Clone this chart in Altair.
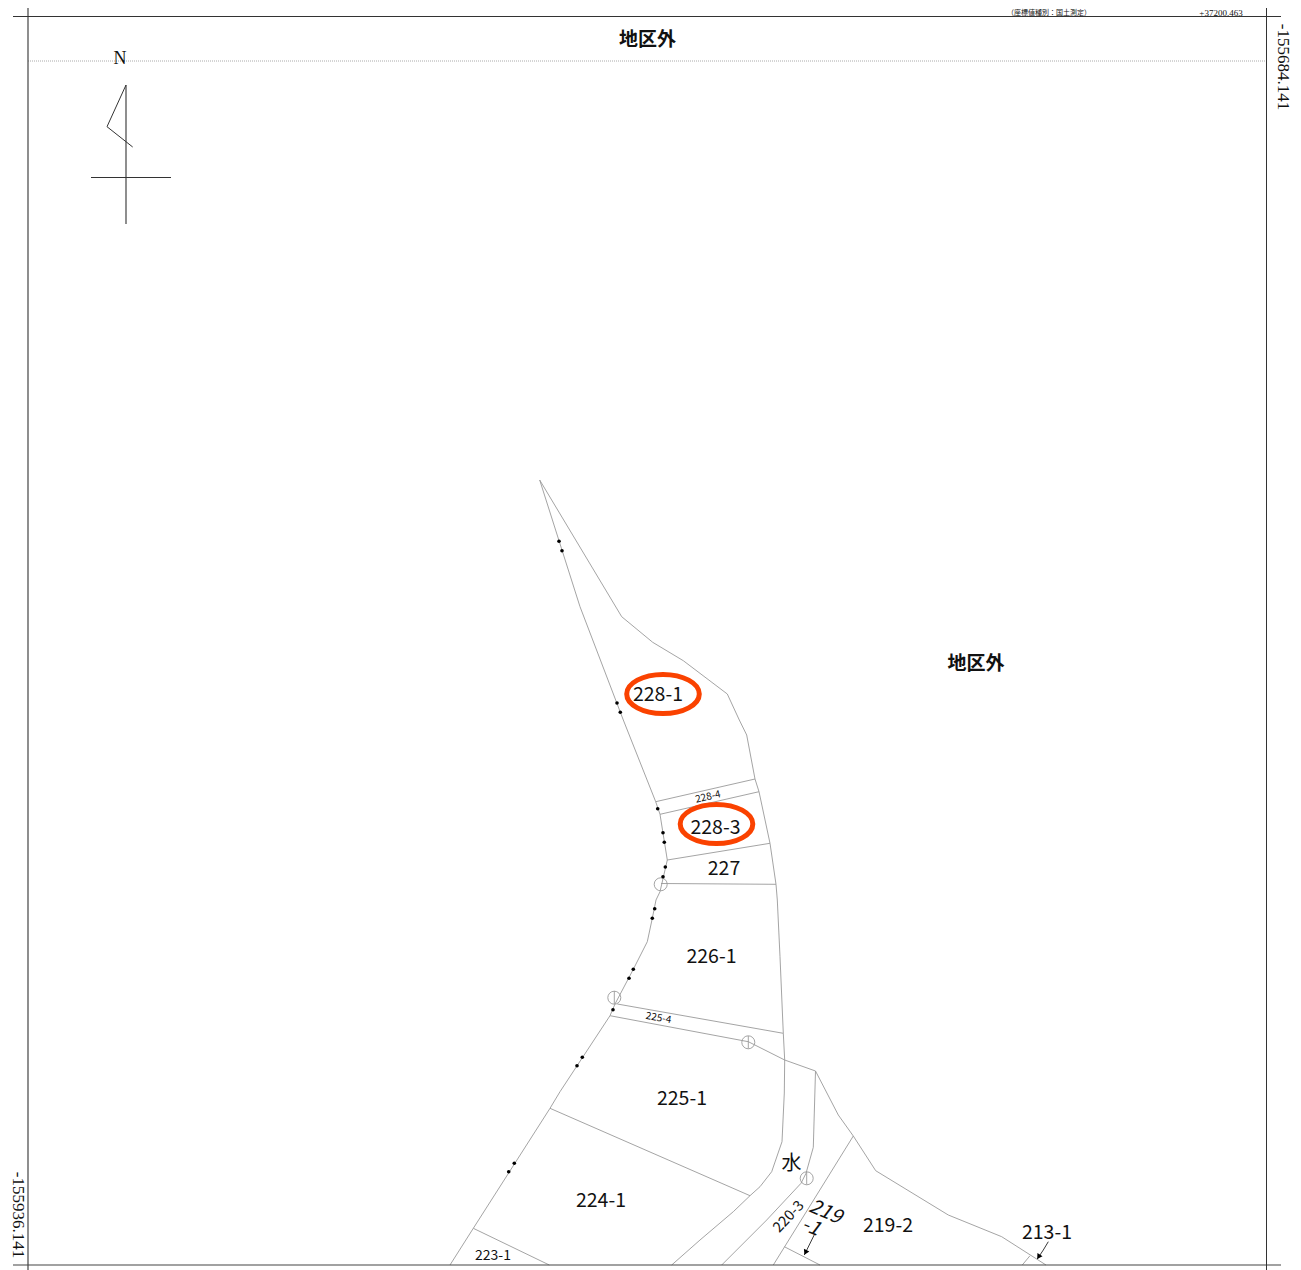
import altair as alt
import pandas as pd

# --- parcel boundaries (page pixel positions) ---
parcel_lines = [
    [(539.7,480),(621.7,616.7),(652.7,642.3),(683.3,660.7),(727.3,694),(739.3,720),(746.7,735),(755,779),(759,791.7),(770,843.3),(776,884.3),(777.3,900),(780,956.7),(783.3,1033.3),(784.7,1060),(784.3,1093),(782,1141.7),(771.7,1171.7),(760,1186.7),(750,1195.7),(733.3,1211.7),(700,1240),(671.7,1265)],
    [(539.7,480),(580,606.7),(623.3,720),(655.7,801.7),(660,814.3),(667.3,860),(660,891.7),(656,900),(652.3,918.3),(647.3,941.7),(633.3,969.3),(615,1004),(610,1015.7),(560,1091.7),(550,1108.3),(473.3,1228.3),(450,1265)],
    [(655.7,801.7),(755,779)],
    [(660,814.3),(759,791.7)],
    [(667.3,860),(770,843.3)],
    [(661,883.5),(776,884.3)],
    [(617.3,1004),(783.3,1033.3)],
    [(610,1015.7),(748.3,1041.7),(784.7,1060),(815.5,1071)],
    [(815.5,1071),(813.3,1147.3),(806,1173.3),(801,1183.3),(766.7,1220),(721.7,1265)],
    [(815.5,1071),(838.3,1115),(853.3,1136),(875.7,1170.7),(948.3,1215),(1001.7,1236.7),(1046,1265)],
    [(853.3,1136),(773.3,1265)],
    [(784.3,1246.7),(820,1265)],
    [(1022.3,1265),(1030,1255.7)],
    [(550,1108.3),(750,1195.7)],
    [(473.3,1228.3),(549.3,1265)],
    [(614.3,991),(614.3,1004)],
    [(748.3,1036),(748.3,1048.5)],
    [(806.7,1172),(806.7,1184.5)],
]
frame_grey = [[(28,0),(28,1270)], [(13,1265),(1281,1265)], [(126,85),(126,224)]]
frame_dark = [[(13,16.5),(1281,16.5)], [(1266.5,0),(1266.5,1270)], [(91,177.5),(171,177.5)],
              [(126,85),(107,126.7),(132.7,147)]]
dotted = [[(28,61),(1266,61)]]
leaders = [[(815,1233.3),(804.3,1255)], [(1048.3,1241.7),(1043.3,1250),(1037.3,1259)]]

dot_x = [559,562,617,620.3,657.7,663,664.3,665.3,663,654.7,652.3,633.3,629,613,582.3,577,514.3,508.7]
dot_y = [541.3,550.7,703,712.3,808.7,832.7,842.3,867,876.7,908.7,918.3,969.3,978.3,1009.7,1057.3,1065.7,1163.3,1171.7]

ring_x = [660.7,614.3,748.3,806.7]
ring_y = [884.3,997.7,1042.3,1178.3]

oval_x = [663,716.5]
oval_y = [694,824]

head_x = [805.5,1038.6]
head_y = [1252.5,1256.8]
head_a = [26,32]

label_text = ["228-1","228-3","227","226-1","225-1","224-1","219-2","213-1"]
label_x = [658,715.5,724,711.5,682,601,888,1047]
label_y = [695,828,868.5,957,1099,1201,1226,1233]

small_text = ["223-1","228-4","225-4","220-3"]
small_x = [493,708,658.5,789]
small_y = [1256,797,1018,1217]
small_size = [14,10,10,14.5]
small_angle = [0,347,10,313]

slant_text = ["219","-1"]
slant_x = [825.5,811]
slant_y = [1212,1227]
slant_size = [20,20]
slant_angle = [23,23]

bold_text = ["地区外","地区外"]
bold_x = [647.5,976]
bold_y = [40,664]

water_text = ["水"]
water_x = [791.5]
water_y = [1164]

top_note = ["（座標値種別：国土測定）"]
top_note_x = [1049]
top_note_y = [13.2]

serif_text = ["N","+37200.463","-155684.141","-155936.141"]
serif_x = [120,1221,1283,18]
serif_y = [59,13.3,67,1215]
serif_size = [18,9,17,17]
serif_angle = [0,0,90,90]

W, H = 1285, 1262
xs = alt.Scale(domain=[8, 8 + W], range=[0, W], nice=False, zero=False)
ys = alt.Scale(domain=[8, 8 + H], range=[0, H], nice=False, zero=False)
X = alt.X("x:Q", scale=xs, axis=None)
Y = alt.Y("y:Q", scale=ys, axis=None)


def table(lines):
    rows = []
    for i, line in enumerate(lines):
        for j, (px, py) in enumerate(line):
            rows.append({"x": px, "y": py, "id": i, "o": j})
    return pd.DataFrame(rows)


def lines(data, color, width, **kw):
    return alt.Chart(table(data)).mark_line(color=color, strokeWidth=width, interpolate="linear", **kw).encode(
        x=X, y=Y, detail="id:N", order="o:Q")


def texts(frame, font, **kw):
    return alt.Chart(frame).mark_text(font=font, color="#111111", baseline="middle", align="center", **kw).encode(
        x=X, y=Y, text="t:N",
        size=alt.Size("s:Q", scale=None, legend=None),
        angle=alt.Angle("a:Q", scale=None, legend=None))


oval_path = "M -1 0 A 1 0.54 0 1 0 1 0 A 1 0.54 0 1 0 -1 0 Z"
CJK = "Noto Sans CJK JP"

layers = [
    lines(dotted, "#aaaaaa", 1, strokeDash=[1, 1]),
    lines(parcel_lines, "#9a9a9a", 0.9),
    lines(frame_grey, "#444444", 1.2),
    lines(frame_dark, "#333333", 1),
    lines(leaders, "#222222", 0.9),
    alt.Chart(pd.DataFrame({"x": ring_x, "y": ring_y})).mark_point(
        shape="circle", size=169, filled=False, color="#9a9a9a", strokeWidth=0.9, opacity=1).encode(x=X, y=Y),
    alt.Chart(pd.DataFrame({"x": dot_x, "y": dot_y})).mark_point(
        shape="circle", size=13, filled=True, color="#000000", opacity=1).encode(x=X, y=Y),
    alt.Chart(pd.DataFrame({"x": head_x, "y": head_y, "a": head_a})).mark_point(
        shape="triangle-down", size=36, filled=True, color="#000000", opacity=1).encode(
        x=X, y=Y, angle=alt.Angle("a:Q", scale=None, legend=None)),
    texts(pd.DataFrame({"t": label_text, "x": label_x, "y": label_y, "s": 19.5, "a": 0}), CJK),
    texts(pd.DataFrame({"t": small_text, "x": small_x, "y": small_y, "s": small_size, "a": small_angle}), CJK),
    texts(pd.DataFrame({"t": slant_text, "x": slant_x, "y": slant_y, "s": slant_size, "a": slant_angle}), CJK, fontStyle="italic"),
    texts(pd.DataFrame({"t": bold_text, "x": bold_x, "y": bold_y, "s": 19, "a": 0}), CJK, fontWeight="bold"),
    texts(pd.DataFrame({"t": water_text, "x": water_x, "y": water_y, "s": 20, "a": 0}), CJK),
    texts(pd.DataFrame({"t": top_note, "x": top_note_x, "y": top_note_y, "s": 7, "a": 0}), CJK),
    texts(pd.DataFrame({"t": serif_text, "x": serif_x, "y": serif_y, "s": serif_size, "a": serif_angle}), "Liberation Serif"),
    alt.Chart(pd.DataFrame({"x": oval_x, "y": oval_y})).mark_point(
        shape=oval_path, size=5271, filled=False, color="#fa4200", strokeWidth=5, opacity=1).encode(x=X, y=Y),
]

chart = alt.layer(*layers).properties(
    width=W, height=H, padding=0, background="white",
    autosize=alt.AutoSizeParams(type="none"),
).configure_view(stroke=None)

chart.save("out.html", embed_options={"renderer": "svg", "actions": False})
